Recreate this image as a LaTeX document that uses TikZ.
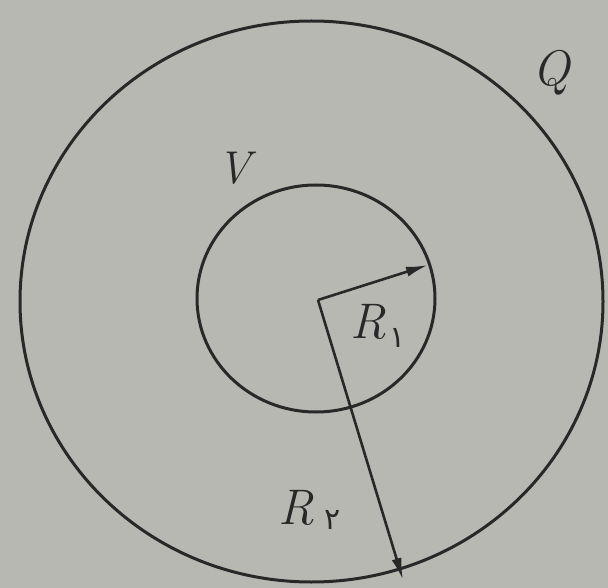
\documentclass[tikz,border=0pt]{standalone}
\usepackage{fontspec}
\newfontfamily\arabicfont[Script=Arabic]{DejaVu Sans}
\usetikzlibrary{arrows.meta}
\definecolor{paper}{RGB}{184,184,178}
\definecolor{ink}{RGB}{40,40,40}
\tikzset{
  curve/.style={draw=ink, line width=3pt},
  radius line/.style={draw=ink, line width=2.6pt, -{Latex[length=22pt,width=10pt]}},
  lbl/.style={text=ink, font=\fontsize{50}{50}\selectfont\itshape, inner sep=0pt},
  sub/.style={text=ink, font=\fontsize{30}{30}\selectfont\arabicfont, inner sep=0pt}
}
\begin{document}
\begin{tikzpicture}[x=1pt,y=-1pt]
\fill[paper] (0,0) rectangle (608,588);
\useasboundingbox (0,0) rectangle (608,588);
\draw[curve] (311.5,301.5) ellipse [x radius=291.5, y radius=280.5];
\draw[curve] (316,298.5) ellipse [x radius=119, y radius=113.5];
\coordinate (c) at (318,300);
\coordinate (p1) at (428,265);
\coordinate (p2) at (403,580);
\draw[radius line] (c) -- (p1);
\draw[radius line] (c) -- (p2);
\node[lbl] (r1) at (368,322) {R};
\node[sub] (s1) at (398,338) {۱};
\node[lbl] (r2) at (296,508) {R};
\node[sub] (s2) at (333,520) {۲};
\node[lbl] (q) at (551,73) {Q};
\node[lbl, font=\fontsize{46}{46}\selectfont\itshape] (v) at (234,168) {V};
\end{tikzpicture}
\end{document}
